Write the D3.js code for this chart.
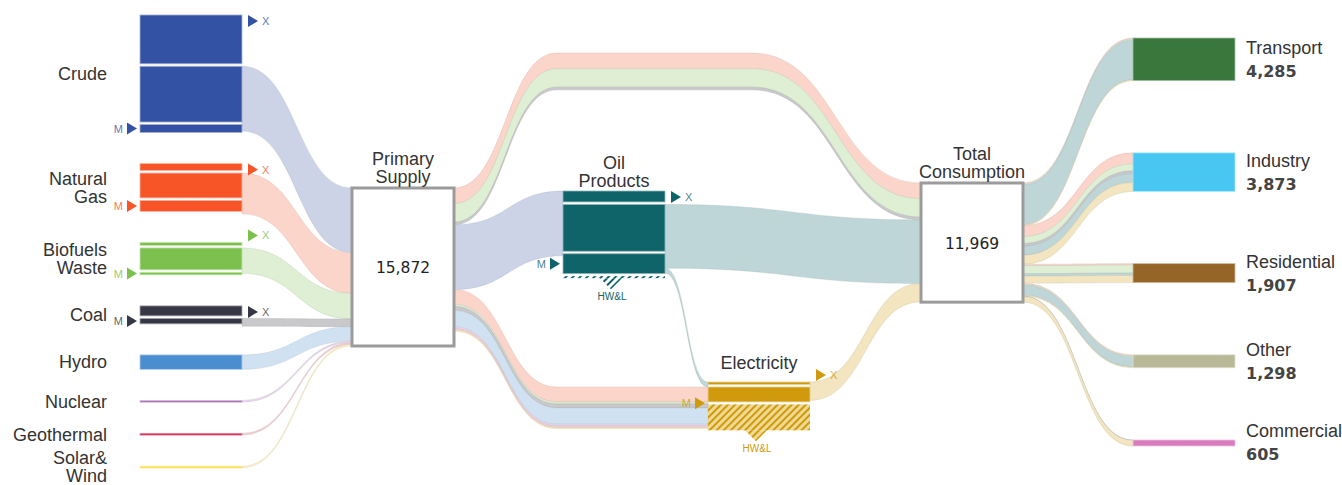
<!DOCTYPE html>
<html>
<head>
<meta charset="utf-8">
<script src="https://cdn.jsdelivr.net/npm/d3@7"></script>
<style>
  body { margin: 0; background: #fff; }
  svg { display: block; font-family: "Liberation Sans", Arial, sans-serif; }
</style>
</head>
<body>
<svg id="chart" width="1342" height="485"></svg>
<script>
// ---------- data ----------
const sourceNames = ["Crude", "Natural Gas", "Biofuels Waste", "Coal", "Hydro", "Nuclear", "Geothermal", "Solar& Wind"];
const sourceLabels = [["Crude"], ["Natural", "Gas"], ["Biofuels", "Waste"], ["Coal"], ["Hydro"], ["Nuclear"], ["Geothermal"], ["Solar&", "Wind"]];
const sourceExport = [4900, 700, 300, 1000, 0, 0, 0, 0];
const sourceDomestic = [5600, 2500, 2200, 0, 1450, 170, 170, 152];
const sourceImport = [800, 1100, 250, 550, 0, 0, 0, 0];
const toPrimary = [6500, 4100, 2550, 780, 1450, 170, 170, 152];

const primarySupply = 15872;
const directFuels = ["Natural Gas", "Biofuels Waste", "Coal"];
const directUse = [1580, 1850, 270];
const refineryInput = 6500;
const powerFuels = ["Natural Gas", "Biofuels Waste", "Coal", "Hydro", "Nuclear", "Geothermal", "Solar& Wind"];
const powerInput = [1500, 200, 400, 1650, 170, 170, 100];

const transformParts = ["export", "output", "import", "losses"];
const oilValues = [1100, 4700, 2000, 200];
const oilToFinal = 6400;
const oilToPower = 500;
const elecValues = [250, 1500, 0, 2600];
const elecToFinal = 1843;

const totalConsumption = 11969;
const sectorNames = ["Transport", "Industry", "Residential", "Other", "Commercial"];
const sectorTotals = [4285, 3873, 1907, 1298, 605];
const finalFuels = ["Natural Gas", "Biofuels Waste", "Coal", "Oil Products", "Electricity"];
const sectorGas = [100, 1100, 150, 100, 0];
const sectorBio = [100, 700, 800, 100, 0];
const sectorCoal = [0, 270, 0, 0, 0];
const sectorOil = [3985, 900, 250, 1000, 30];
const sectorElec = [100, 903, 707, 98, 575];
const sectorFuel = [sectorGas, sectorBio, sectorCoal, sectorOil, sectorElec];

// ---------- styles ----------
const colors = {
  "Crude":          { node: "#3352a3", flow: "#ccd3e7" },
  "Natural Gas":    { node: "#f75527", flow: "#fbd4ca" },
  "Biofuels Waste": { node: "#7cc14e", flow: "#deefd4" },
  "Coal":           { node: "#373846", flow: "#c9c9cb" },
  "Hydro":          { node: "#4a8ed0", flow: "#d0e1f1" },
  "Nuclear":        { node: "#a469b0", flow: "#ead9ee" },
  "Geothermal":     { node: "#c2123f", flow: "#f3d0d6" },
  "Solar& Wind":    { node: "#fed629", flow: "#fef3c5" },
  "Oil Products":   { node: "#0e6469", flow: "#bfd6d8" },
  "Electricity":    { node: "#cf9a0c", flow: "#f2e5bf" }
};
const sectorColors = ["#3a773c", "#48c7f2", "#956527", "#b9b997", "#d97cbd"];
const textColor = "#333";

// ---------- layout ----------
const nodeW = 102, gap = 2.5;
const colX = { source: 140, primary: 352, oil: 563, elec: 708, tfc: 921, sector: 1133 };
const primaryTop = 188, tfcTop = 183, oilTop = 191, elecTop = 382;
const archTop = 53, archX = [557, 752], lowX = 557;
const srcSpan = [15, 468], sectorSpan = [38, 446];

const y = d3.scaleLinear().domain([0, primarySupply]).range([0, 158]);

const svg = d3.select("#chart");
const defs = svg.append("defs");
function hatch(id, dark, light) {
  const p = defs.append("pattern").attr("id", id).attr("patternUnits", "userSpaceOnUse")
    .attr("width", 5).attr("height", 5).attr("patternTransform", "rotate(45)");
  p.append("rect").attr("width", 5).attr("height", 5).attr("fill", light);
  p.append("line").attr("x1", 1).attr("y1", 0).attr("x2", 1).attr("y2", 5)
    .attr("stroke", dark).attr("stroke-width", 2);
}
hatch("hatch-oil", colors["Oil Products"].node, "#ffffff");
hatch("hatch-elec", colors["Electricity"].node, "#efd993");

const gLinks = svg.append("g");
const gNodes = svg.append("g");
const gText = svg.append("g");

// stacked parts of a bar (zero parts keep a position but add no gap)
function stackParts(keys, values, minH) {
  let off = 0;
  const parts = keys.map((key, i) => {
    const v = values[i];
    const h = v > 0 ? Math.max(y(v), minH) : 0;
    const p = { key, v, off, h };
    off += h + (v > 0 && i < keys.length - 1 ? gap : 0);
    return p;
  });
  const last = parts[parts.length - 1];
  return { parts, h: last.off + last.h };
}

// band with constant vertical thickness through waypoints (top edge)
function band(pts, w) {
  const seg = (a, b) => Math.abs(a[1] - b[1]) < 0.01
    ? `L${b[0]},${b[1]}`
    : `C${(a[0] + b[0]) / 2},${a[1]} ${(a[0] + b[0]) / 2},${b[1]} ${b[0]},${b[1]}`;
  const bot = pts.map(([x, yy]) => [x, yy + w]).reverse();
  let d = `M${pts[0][0]},${pts[0][1]}`;
  for (let i = 1; i < pts.length; i++) d += seg(pts[i - 1], pts[i]);
  d += `L${bot[0][0]},${bot[0][1]}`;
  for (let i = 1; i < bot.length; i++) d += seg(bot[i - 1], bot[i]);
  return d + "Z";
}
const links = [];
const addBand = (pts, v, fuel) => { if (v > 0) links.push({ d: band(pts, y(v)), fill: colors[fuel].flow }); };

// ---- source nodes, spread evenly over the column ----
const srcNodes = sourceNames.map((name, i) => {
  const vals = [sourceExport[i], sourceDomestic[i], sourceImport[i]];
  const keys = ["export", "domestic", "import"].filter((k, j) => vals[j] > 0);
  const st = stackParts(keys, vals.filter(v => v > 0), 1.8);
  return { name, i, ...st };
});
const srcGap = (srcSpan[1] - srcSpan[0] - d3.sum(srcNodes, d => d.h)) / (srcNodes.length - 1);
let cy = srcSpan[0];
srcNodes.forEach(n => { n.y0 = cy; cy += n.h + srcGap; });

// ---- transformation nodes ----
const oil = { name: "Oil Products", label: ["Oil", "Products"], x: colX.oil, y0: oilTop, ...stackParts(transformParts, oilValues, 0) };
const elec = { name: "Electricity", label: ["Electricity"], x: colX.elec, y0: elecTop, ...stackParts(transformParts, elecValues, 0) };

// ---- sector nodes ----
const sectorNodes = sectorNames.map((name, i) => ({ name, i, h: y(sectorTotals[i]) }));
const secGap = (sectorSpan[1] - sectorSpan[0] - d3.sum(sectorNodes, d => d.h)) / (sectorNodes.length - 1);
cy = sectorSpan[0];
sectorNodes.forEach(n => { n.y0 = cy; cy += n.h + secGap; });

// ---------- links ----------
const srcR = colX.source + nodeW, pR = colX.primary + nodeW, oR = colX.oil + nodeW,
      eR = colX.elec + nodeW, tR = colX.tfc + nodeW;

let pin = primaryTop;
srcNodes.forEach((n, i) => {
  const start = n.parts.find(p => p.key !== "export");
  addBand([[srcR, n.y0 + start.off], [colX.primary, pin]], toPrimary[i], n.name);
  pin += y(toPrimary[i]);
});

let pout = primaryTop, archOff = 0, tfcIn = tfcTop;
directFuels.forEach((f, i) => {
  addBand([[pR, pout], [archX[0], archTop + archOff], [archX[1], archTop + archOff], [colX.tfc, tfcIn]], directUse[i], f);
  const h = y(directUse[i]);
  pout += h; archOff += h; tfcIn += h;
});
addBand([[pR, pout], [colX.oil, oilTop]], refineryInput, "Crude");
pout += y(refineryInput);

let eIn = elecTop + y(oilToPower);
powerFuels.forEach((f, i) => {
  addBand([[pR, pout], [lowX, eIn], [colX.elec, eIn]], powerInput[i], f);
  pout += y(powerInput[i]); eIn += y(powerInput[i]);
});

const oilOut = oilTop + oil.parts[1].off;
addBand([[oR, oilOut], [colX.tfc, tfcIn]], oilToFinal, "Oil Products");
tfcIn += y(oilToFinal);
addBand([[oR, oilOut + y(oilToFinal)], [colX.elec, elecTop]], oilToPower, "Oil Products");
addBand([[eR, elecTop], [colX.tfc, tfcIn]], elecToFinal, "Electricity");

let tOut = tfcTop;
sectorNodes.forEach((s, i) => {
  let off = 0;
  finalFuels.forEach((f, j) => {
    const v = sectorFuel[j][i];
    addBand([[tR, tOut], [colX.sector, s.y0 + off]], v, f);
    tOut += y(v); off += y(v);
  });
});

gLinks.selectAll("path").data(links).join("path")
  .attr("d", d => d.d)
  .attr("fill", d => d.fill)
  .attr("stroke", d => d3.color(d.fill).darker(0.6))
  .attr("stroke-width", 0.5)
  .attr("stroke-opacity", 0.6);

// ---------- helpers for nodes ----------
const light = c => d3.interpolateRgb(c, "#fff")(0.55);
function arrowX(x, cyy, c) {
  gNodes.append("path").attr("d", `M${x},${cyy - 6}L${x + 10},${cyy}L${x},${cyy + 6}Z`).attr("fill", c);
  gText.append("text").attr("x", x + 14).attr("y", cyy + 4).attr("font-size", 11)
    .attr("fill", c).attr("fill-opacity", 0.8).text("X");
}
function arrowM(x, cyy, c) {
  gNodes.append("path").attr("d", `M${x - 13},${cyy - 6}L${x - 3},${cyy}L${x - 13},${cyy + 6}Z`).attr("fill", c);
  gText.append("text").attr("x", x - 17).attr("y", cyy + 4).attr("font-size", 11).attr("text-anchor", "end")
    .attr("fill", c).attr("fill-opacity", 0.8).text("M");
}
function lines(g, x, centerY, arr, size, anchor) {
  arr.forEach((t, k) => g.append("text")
    .attr("x", x).attr("y", centerY + (k - (arr.length - 1) / 2) * 18 + size * 0.35)
    .attr("font-size", size).attr("text-anchor", anchor).attr("fill", textColor).text(t));
}

// ---------- source nodes ----------
srcNodes.forEach(n => {
  const c = colors[n.name].node;
  gNodes.selectAll(null).data(n.parts).join("rect")
    .attr("x", colX.source).attr("y", p => n.y0 + p.off)
    .attr("width", nodeW).attr("height", p => p.h)
    .attr("fill", c).attr("stroke", light(c)).attr("stroke-width", 0.8);
  const ex = n.parts.find(p => p.key === "export");
  if (ex) arrowX(srcR + 6, ex.h < 5 ? n.y0 - 7 : n.y0 + 6, c);
  const im = n.parts.find(p => p.key === "import");
  if (im) arrowM(colX.source, n.y0 + im.off + im.h / 2, c);
  lines(gText, colX.source - 33, n.y0 + n.h / 2, sourceLabels[n.i], 18, "end");
});

// ---------- transformation nodes ----------
[oil, elec].forEach(n => {
  const c = colors[n.name].node;
  const hid = n === oil ? "hatch-oil" : "hatch-elec";
  n.parts.filter(p => p.v > 0).forEach(p => {
    gNodes.append("rect").attr("x", n.x).attr("y", n.y0 + p.off).attr("width", nodeW).attr("height", p.h)
      .attr("fill", p.key === "losses" ? `url(#${hid})` : c)
      .attr("stroke", p.key === "losses" ? "none" : light(c)).attr("stroke-width", 0.8);
  });
  const ex = n.parts[0], im = n.parts[2];
  const xAbove = ex.h < 5;
  arrowX(n.x + nodeW + 6, xAbove ? n.y0 - 7 : n.y0 + 6, c);
  arrowM(n.x, im.v > 0 ? n.y0 + im.off + im.h / 2 : n.y0 + im.off - gap / 2, c);
  const bottom = n.y0 + n.h;
  const cx = n.x + nodeW / 2 - 3;
  gNodes.append("path").attr("d", `M${cx - 11},${bottom}L${cx + 11},${bottom}L${cx},${bottom + 11}Z`)
    .attr("fill", `url(#${hid})`);
  gText.append("text").attr("x", cx + 1).attr("y", bottom + 22).attr("font-size", 10)
    .attr("text-anchor", "middle").attr("fill", c).text("HW&L");
  const base = n.y0 - 4 - (xAbove ? 9 : 0);
  n.label.forEach((t, k) => gText.append("text")
    .attr("x", n.x + nodeW / 2).attr("y", base - (n.label.length - 1 - k) * 18)
    .attr("font-size", 18).attr("text-anchor", "middle").attr("fill", textColor).text(t));
});

// ---------- total boxes ----------
const boxes = [
  { x: colX.primary, y0: primaryTop, v: primarySupply, label: ["Primary", "Supply"] },
  { x: colX.tfc, y0: tfcTop, v: totalConsumption, label: ["Total", "Consumption"] }
];
boxes.forEach(b => {
  const h = y(b.v);
  gNodes.append("rect").attr("x", b.x).attr("y", b.y0).attr("width", nodeW).attr("height", h)
    .attr("fill", "#fff").attr("stroke", "#9b9b9b").attr("stroke-width", 3);
  gText.append("text").attr("x", b.x + nodeW / 2).attr("y", b.y0 + h / 2 + 6)
    .attr("font-family", "'DejaVu Sans', Verdana, sans-serif").attr("font-size", 15.5)
    .attr("text-anchor", "middle").attr("fill", "#222").text(d3.format(",")(b.v));
  b.label.forEach((t, k) => gText.append("text")
    .attr("x", b.x + nodeW / 2).attr("y", b.y0 - 5 - (b.label.length - 1 - k) * 18)
    .attr("font-size", 18).attr("text-anchor", "middle").attr("fill", textColor).text(t));
});

// ---------- sector nodes ----------
sectorNodes.forEach(s => {
  const c = sectorColors[s.i];
  gNodes.append("rect").attr("x", colX.sector).attr("y", s.y0).attr("width", nodeW).attr("height", s.h)
    .attr("fill", c).attr("stroke", light(c)).attr("stroke-width", 0.8);
  const mid = s.y0 + s.h / 2;
  gText.append("text").attr("x", colX.sector + nodeW + 11).attr("y", mid - 5.5)
    .attr("font-size", 18).attr("fill", textColor).text(s.name);
  gText.append("text").attr("x", colX.sector + nodeW + 11).attr("y", mid + 17.5)
    .attr("font-family", "'DejaVu Sans', Verdana, sans-serif").attr("font-weight", "bold")
    .attr("font-size", 16).attr("fill", "#444").text(d3.format(",")(sectorTotals[s.i]));
});
</script>
</body>
</html>
